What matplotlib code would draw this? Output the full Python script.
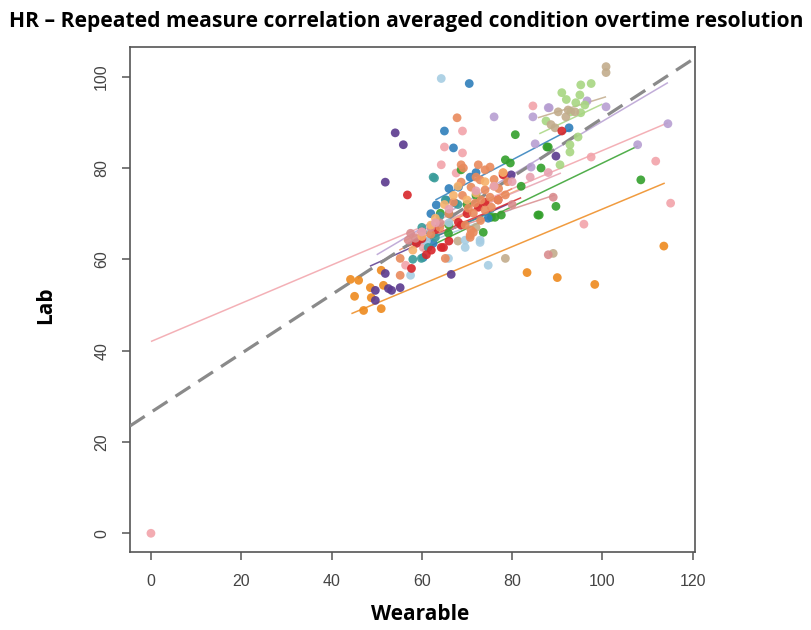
import matplotlib
matplotlib.use("Agg")
import matplotlib.pyplot as plt

# ---------------- data ----------------
title = "HR \u2013 Repeated measure correlation averaged condition overtime resolution"
x_label = "Wearable"
y_label = "Lab"
x_ticks = [0, 20, 40, 60, 80, 100, 120]
y_ticks = [0, 20, 40, 60, 80, 100]

subject_colors = ["#EE8A1E", "#5B3A8E", "#F2A3AA", "#B79FD2", "#A8D682", "#C2AC8C",
                  "#33A02C", "#2E7EBB", "#A6CDE3", "#3A9C9A", "#D7262A", "#E98A5C",
                  "#D98C8E", "#F7B26B", "#E7A1B0"]

orange_x = [44.2, 45.1, 46.0, 47.1, 48.6, 48.8, 51.0, 51.0, 51.5, 83.3, 90.0, 98.3, 113.6]
orange_y = [55.6, 51.9, 55.4, 48.8, 53.8, 51.6, 49.2, 57.6, 54.3, 57.1, 56.0, 54.5, 62.9]

purple_x = [54.1, 55.9, 51.9, 51.9, 49.7, 52.6, 53.3, 55.2, 49.7, 66.5, 79.8, 89.7]
purple_y = [87.7, 85.1, 76.9, 56.9, 53.2, 53.6, 53.2, 53.8, 51.0, 56.7, 78.5, 82.6]

pink_x = [0.0, 64.3, 67.6, 60.3, 97.5, 111.8, 115.1, 95.9, 56.4, 84.6, 69.0, 65.0, 69.0]
pink_y = [0.0, 80.7, 78.9, 62.6, 82.4, 81.5, 72.3, 67.7, 58.7, 93.6, 88.1, 84.6, 83.3]

lavender_x = [76.0, 88.2, 84.6, 85.1, 84.2, 88.0, 96.6, 100.8, 107.8, 114.5]
lavender_y = [91.2, 93.2, 91.2, 85.3, 80.2, 93.2, 94.7, 93.4, 85.1, 89.7]

lightgreen_x = [95.2, 97.5, 95.0, 94.1, 93.0, 95.2, 96.1, 87.5, 94.6, 92.8, 92.8, 90.6, 91.0, 92.0]
lightgreen_y = [98.2, 98.5, 96.0, 94.3, 92.3, 92.1, 93.8, 90.3, 86.8, 85.1, 83.5, 80.7, 96.5, 95.0]

tan_x = [100.8, 100.8, 90.2, 92.4, 93.9, 91.9, 89.5, 88.6, 78.5, 89.1, 68.0, 72.0]
tan_y = [102.2, 100.9, 92.3, 92.7, 92.3, 91.2, 88.8, 89.5, 60.2, 61.3, 64.0, 67.0]

green_x = [80.7, 87.7, 78.5, 79.6, 86.4, 88.0, 108.5, 89.7, 86.0, 73.6, 75.4, 77.6, 64.1, 68.7,
           65.9, 76.2, 85.7, 70.0, 72.0, 66.0, 82.0]
green_y = [87.3, 84.6, 81.8, 81.1, 80.0, 84.6, 77.4, 71.6, 69.7, 65.9, 69.2, 69.7, 70.1, 79.6,
           65.7, 69.2, 69.7, 72.0, 74.0, 67.5, 76.0]

blue_x = [70.5, 65.0, 67.0, 68.1, 70.7, 63.2, 67.4, 65.4, 62.5, 60.3, 92.6, 74.7, 62.0, 66.0, 72.0]
blue_y = [98.5, 88.1, 84.4, 75.8, 78.0, 71.9, 72.3, 73.0, 63.5, 60.4, 88.8, 69.0, 70.0, 75.5, 79.0]

lightblue_x = [64.3, 57.5, 65.9, 69.6, 72.9, 74.7, 72.9, 69.6, 62.0, 66.0, 61.0]
lightblue_y = [99.6, 56.5, 60.2, 62.6, 63.7, 58.7, 64.2, 64.2, 66.0, 68.0, 64.0]

teal_x = [62.8, 65.2, 59.9, 61.4, 63.0, 62.5, 58.0, 66.0, 68.0, 60.0, 64.0]
teal_y = [77.8, 73.0, 60.2, 62.6, 64.8, 78.0, 60.0, 70.0, 72.0, 67.0, 69.5]

red_x = [56.8, 58.8, 57.7, 62.1, 64.8, 78.0, 91.0, 76.9, 78.0, 68.1, 64.3, 68.7, 72.5, 66.0, 70.0,
         60.0, 63.0, 74.0, 61.0]
red_y = [74.1, 63.5, 58.0, 62.0, 62.6, 78.5, 88.1, 73.0, 78.9, 68.1, 62.6, 67.5, 71.4, 64.0, 70.0,
         64.5, 66.5, 72.5, 61.0]

salmon_x = [69.2, 72.5, 75.1, 68.7, 70.9, 72.9, 74.0, 75.1, 73.1, 71.8, 70.3, 71.4, 74.0, 75.4,
            76.9, 78.5, 74.0, 68.7, 69.6, 70.9, 70.7, 70.7, 71.4, 67.8, 55.2, 55.2, 65.2,
            66.0, 67.0, 69.0, 72.0, 76.0, 73.0, 77.0, 64.0, 62.0, 79.0]
salmon_y = [80.0, 80.7, 80.2, 76.9, 75.8, 77.4, 75.2, 73.6, 73.0, 72.3, 71.2, 70.1, 70.8, 71.4,
            73.0, 74.1, 79.6, 80.7, 67.5, 66.4, 65.3, 64.8, 65.9, 91.0, 60.2, 56.5, 60.2,
            70.0, 72.5, 74.0, 78.0, 77.5, 68.5, 75.5, 67.0, 65.5, 77.0]

rose_x = [57.5, 58.6, 57.0, 89.1, 60.0, 62.0, 64.0, 80.0, 88.0]
rose_y = [65.7, 64.6, 64.2, 73.6, 66.0, 67.0, 68.0, 72.0, 61.0]

lightorange_x = [65.0, 67.0, 60.0, 63.0, 68.0, 72.0, 76.0, 70.0, 58.0, 62.0, 74.0, 78.0]
lightorange_y = [72.0, 74.0, 65.0, 69.0, 76.0, 74.5, 76.0, 73.0, 62.0, 67.5, 77.0, 79.0]

pink2_x = [60.0, 63.0, 72.0, 80.0, 88.0, 66.0, 76.0, 84.0]
pink2_y = [66.0, 68.0, 75.0, 77.0, 79.0, 71.0, 76.0, 78.0]

subject_x = [orange_x, purple_x, pink_x, lavender_x, lightgreen_x, tan_x, green_x, blue_x,
             lightblue_x, teal_x, red_x, salmon_x, rose_x, lightorange_x, pink2_x]
subject_y = [orange_y, purple_y, pink_y, lavender_y, lightgreen_y, tan_y, green_y, blue_y,
             lightblue_y, teal_y, red_y, salmon_y, rose_y, lightorange_y, pink2_y]

# per-subject fitted line end points (x0, x1, y0, y1)
line_x0 = [44.4, 48.5, 0.0, 50.0, 86.0, 85.7, 60.0, 63.0, 57.0, 58.0, 56.0, 55.0, 57.0, 56.0, 57.0]
line_x1 = [113.8, 80.0, 114.5, 114.5, 100.0, 100.8, 107.8, 93.0, 80.0, 76.0, 82.0, 80.0, 89.5, 82.0, 90.8]
line_y0 = [48.1, 58.5, 42.0, 61.0, 87.5, 91.0, 62.0, 73.0, 62.0, 63.0, 62.5, 62.0, 63.5, 64.0, 65.0]
line_y1 = [76.7, 72.5, 89.9, 98.7, 94.0, 95.6, 84.8, 88.5, 71.0, 70.5, 73.5, 75.5, 74.1, 75.5, 78.9]

# overall (dashed) regression line
overall_intercept = 26.5
overall_slope = 0.644

xlim = (-4.64, 120.5)
ylim = (-4.1, 106.5)

# ---------------- figure ----------------
W, H, DPI = 812, 630, 100
fig = plt.figure(figsize=(W / DPI, H / DPI), dpi=DPI)
fig.patch.set_facecolor("white")
ax = fig.add_axes([130 / W, 1 - 552 / H, (695 - 130) / W, (552 - 47) / H])

for i, col in enumerate(subject_colors):
    ax.plot([line_x0[i], line_x1[i]], [line_y0[i], line_y1[i]], color=col, lw=1.1,
            alpha=0.85, zorder=2, solid_capstyle="butt")

dl = ax.axline((0, overall_intercept), slope=overall_slope, color="#8a8a8a", lw=2.3, zorder=3)
dl.set_dashes([5.5, 3.0])

for i, col in enumerate(subject_colors):
    ax.scatter(subject_x[i], subject_y[i], s=40, color=col, edgecolors="none",
               alpha=0.9, zorder=4)

ax.set_xlim(*xlim)
ax.set_ylim(*ylim)
ax.set_xticks(x_ticks)
ax.set_yticks(y_ticks)
for sp in ax.spines.values():
    sp.set_color("#555555")
    sp.set_linewidth(1.2)
ax.tick_params(axis="both", direction="out", length=6, width=1.1, color="#555555",
               labelcolor="#444444", labelsize=11.5)
ax.tick_params(axis="x", pad=10)
ax.tick_params(axis="y", pad=9)
for lab in ax.get_xticklabels():
    lab.set_family("Liberation Sans")
for lab in ax.get_yticklabels():
    lab.set_family("Liberation Sans")
    lab.set_rotation(90)
    lab.set_va("center")
    lab.set_ha("right")

fig.text(420 / W, 1 - 615 / H, x_label, ha="center", va="center", fontsize=15,
         fontweight="bold", family="Open Sans")
fig.text(46 / W, 1 - 305 / H, y_label, ha="center", va="center", rotation=90, fontsize=15,
         fontweight="bold", family="Open Sans")

t = fig.text(0.5, 1 - 22 / H, title, ha="center", va="center", fontsize=16,
             fontweight="bold", family="Open Sans")
fig.canvas.draw()
bb = t.get_window_extent(fig.canvas.get_renderer())
t.set_fontsize(16 * 790 / bb.width)

fig.savefig("out.png", dpi=DPI)
